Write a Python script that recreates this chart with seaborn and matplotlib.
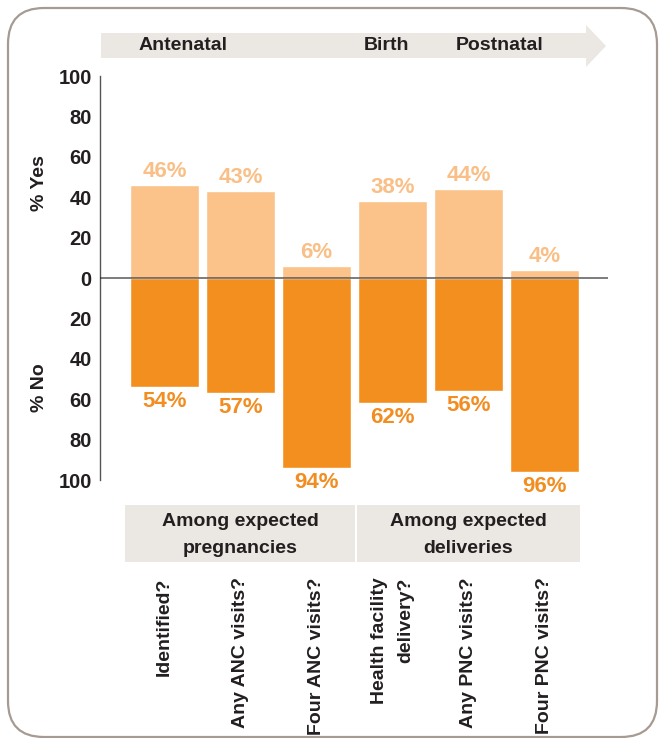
import matplotlib
matplotlib.use("Agg")
import matplotlib.pyplot as plt
import seaborn as sns
from matplotlib.patches import FancyBboxPatch, Rectangle, Polygon

# ---- data ----
categories = ["Identified?", "Any ANC visits?", "Four ANC visits?",
              "Health facility\ndelivery?", "Any PNC visits?", "Four PNC visits?"]
yes_pct = [46, 43, 6, 38, 44, 4]
no_pct = [54, 57, 94, 62, 56, 96]
phase_labels = ["Antenatal", "Birth", "Postnatal"]
group_labels = ["Among expected\npregnancies", "Among expected\ndeliveries"]
ytick_vals = [-100, -80, -60, -40, -20, 0, 20, 40, 60, 80, 100]

# ---- style ----
sns.set_theme(style="white")
plt.rcParams["font.family"] = ["Liberation Sans", "DejaVu Sans"]
plt.rcParams["font.weight"] = "bold"

YES_C = "#fbc389"
NO_C = "#f38f1f"
YES_TXT = "#f9bf86"
NO_TXT = "#f28d22"
INK = "#231f20"
BOX_C = "#ebe8e3"
FRAME_C = "#a69b92"

W, H = 660, 738
fig = plt.figure(figsize=(W / 100, H / 100), dpi=100)
fig.patch.set_facecolor("white")

def P(px, py):
    return (px / 100.0, (H - py) / 100.0)

pt = fig.dpi_scale_trans

# axes placement in pixels
ax_l, ax_r, ax_t, ax_b = 100, 608, 76, 480
ax = fig.add_axes([ax_l / W, 1 - ax_b / H, (ax_r - ax_l) / W, (ax_b - ax_t) / H])
ax.set_facecolor("none")

x_lo = (ax_l - 164.5) / 76.0
x_hi = (ax_r - 164.5) / 76.0

sns.barplot(x=categories, y=yes_pct, color=YES_C, saturation=1, width=0.91, ax=ax, zorder=2)
sns.barplot(x=categories, y=[-v for v in no_pct], color=NO_C, saturation=1, width=0.91, ax=ax, zorder=2)

ax.set_xlim(x_lo, x_hi)
ax.set_ylim(-100, 100)
ax.axhline(0, color="#222222", lw=1.1, alpha=0.75, zorder=3)

# value labels
for i, (y, n) in enumerate(zip(yes_pct, no_pct)):
    ax.annotate(f"{y}%", (i, y), xytext=(0, 2), textcoords="offset points",
                ha="center", va="bottom", color=YES_TXT, fontsize=16, fontweight="bold")
    ax.annotate(f"{n}%", (i, -n), xytext=(0, -3), textcoords="offset points",
                ha="center", va="top", color=NO_TXT, fontsize=16, fontweight="bold")

# y axis
ax.set_yticks(ytick_vals)
ax.set_yticklabels([str(abs(v)) for v in ytick_vals])
ax.tick_params(axis="y", length=0, pad=6, labelsize=14.5, labelcolor=INK)
for lab in ax.get_yticklabels():
    lab.set_fontweight("bold")

# x axis labels
ax.tick_params(axis="x", length=0, pad=70, labelsize=14, labelcolor=INK)
for lab in ax.get_xticklabels():
    lab.set_rotation(90)
    lab.set_ha("center")
    lab.set_va("top")
    lab.set_multialignment("right")
    lab.set_fontweight("bold")
    lab.set_linespacing(1.7)

for s in ["top", "right", "bottom"]:
    ax.spines[s].set_visible(False)
ax.spines["left"].set_color("#555555")
ax.spines["left"].set_linewidth(1)
ax.set_xlabel("")
ax.set_ylabel("")

# % Yes / % No labels
fig.text(40 / W, 1 - 183 / H, "% Yes", rotation=90,
         ha="center", va="center", fontsize=14, fontweight="bold", color=INK)
fig.text(40 / W, 1 - 388 / H, "% No", rotation=90,
         ha="center", va="center", fontsize=14, fontweight="bold", color=INK)

# top arrow
arrow = Polygon([P(101, 33), P(586, 33), P(586, 25), P(606, 46), P(586, 67),
                 P(586, 58), P(101, 58)], closed=True, transform=pt,
                facecolor=BOX_C, edgecolor="none", zorder=0)
fig.patches.append(arrow)
for lbl, px in zip(phase_labels, [183.5, 386.5, 500]):
    fig.text(px / W, 1 - 46 / H, lbl, ha="center", va="center",
             fontsize=14, fontweight="bold", color=INK)

# group boxes
for (x0, x1), lbl in zip([(125, 355), (357, 580)], group_labels):
    (bx, by) = P(x0, 562)
    rect = Rectangle((bx, by), (x1 - x0) / 100, (562 - 505) / 100, transform=pt,
                     facecolor=BOX_C, edgecolor="none", zorder=0)
    fig.patches.append(rect)
    fig.text(((x0 + x1) / 2) / W, 1 - 535 / H, lbl, ha="center", va="center",
             fontsize=14, fontweight="bold", color=INK, linespacing=1.75)

# outer rounded frame
frame = FancyBboxPatch(P(8, 737), (657 - 8) / 100, (737 - 8) / 100,
                       boxstyle="round,pad=0,rounding_size=0.36", transform=pt,
                       facecolor="none", edgecolor=FRAME_C, lw=1.6, zorder=5)
fig.patches.append(frame)

fig.savefig("out.png", dpi=100, facecolor="white")
